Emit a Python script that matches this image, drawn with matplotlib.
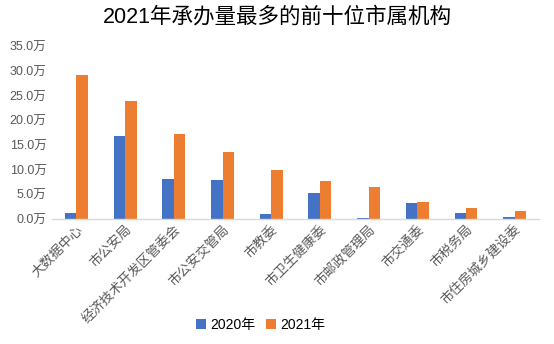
import matplotlib
matplotlib.use("Agg")
import matplotlib.pyplot as plt
import numpy as np
from matplotlib.ticker import FuncFormatter

plt.rcParams['font.family'] = ['Liberation Sans', 'Noto Sans CJK SC', 'DejaVu Sans']

# data (unit: 万)
orgs = ['大数据中心', '市公安局', '经济技术开发区管委会', '市公安交管局', '市教委',
        '市卫生健康委', '市邮政管理局', '市交通委', '市税务局', '市住房城乡建设委']
v2020 = [1.2, 16.9, 8.1, 7.9, 1.1, 5.3, 0.2, 3.2, 1.2, 0.4]
v2021 = [29.3, 24.0, 17.3, 13.6, 10.0, 7.7, 6.5, 3.4, 2.2, 1.6]
series_names = ['2020年', '2021年']

blue = '#4472c4'
orange = '#ed7d31'
grey = '#595959'

fig = plt.figure(figsize=(5.54, 3.44), dpi=100)
ax = fig.add_axes([0.094, 0.363, 0.879, 0.501])

x = np.arange(len(orgs))
w = 0.236
ax.bar(x - w/2, v2020, w, color=blue, label=series_names[0])
ax.bar(x + w/2, v2021, w, color=orange, label=series_names[1])

ax.set_xlim(-0.5, len(orgs) - 0.5)
ax.set_ylim(0, 35)
ax.set_yticks(np.arange(0, 36, 5))
ax.yaxis.set_major_formatter(FuncFormatter(lambda v, p: f'{v:.1f}万'))
ax.tick_params(axis='y', length=0, labelsize=9, labelcolor=grey, pad=4)
ax.tick_params(axis='x', length=0, pad=3)
ax.set_xticks(x)
ax.set_xticklabels(orgs, rotation=45, ha='right', rotation_mode='anchor',
                   fontsize=9.5, color=grey)

for s in ['top', 'right', 'left']:
    ax.spines[s].set_visible(False)
ax.spines['bottom'].set_color('#d9d9d9')
ax.spines['bottom'].set_linewidth(1)

fig.suptitle('2021年承办量最多的前十位市属机构', fontsize=15.5, y=0.98,
             color='#000000')

fig.legend(loc='lower center', bbox_to_anchor=(0.47, 0.0), ncol=2, frameon=False,
           fontsize=10, handlelength=0.7, handleheight=0.7, handletextpad=0.3,
           columnspacing=0.8)

fig.savefig('out.png', dpi=100)
